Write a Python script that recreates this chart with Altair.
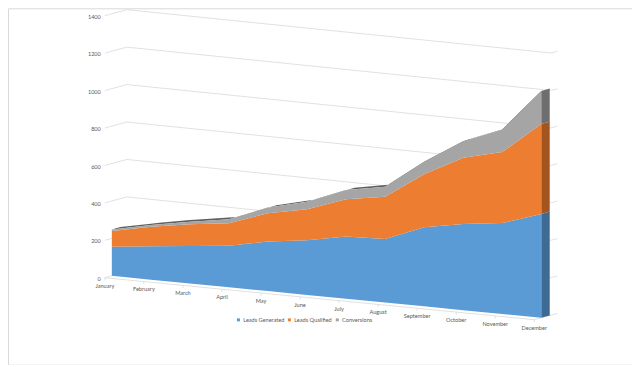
import altair as alt
import pandas as pd

# ---------------- data ----------------
months = ["January", "February", "March", "April", "May", "June", "July",
          "August", "September", "October", "November", "December"]
leads_generated = [156, 179, 200, 222, 265, 292, 332, 340, 423, 461, 486, 555]
leads_qualified = [84, 104, 116, 120, 151, 166, 199, 225, 283, 353, 379, 480]
conversions = [8, 9, 14, 21, 30, 40, 50, 54, 67, 89, 121, 177]
series_names = ["Leads Generated", "Leads Qualified", "Conversions"]
y_ticks = [0, 200, 400, 600, 800, 1000, 1200, 1400]

front_colors = ["#5b9bd5", "#ed7d31", "#a5a5a5"]
side_colors = ["#3e6a94", "#a3541f", "#6e6e6e"]
TOP_COLOR = "#5f5f5f"
TEXT = "#595959"
FONT = "Lato"
FS = 5.6

# ---------------- oblique 3-D projection ----------------
W, H = 625, 357
STEP = 39.1        # px per month along the front edge
PXV = 0.1875       # px per value unit
DROP = 3.82        # px the floor drops per month
DEPTH_DY = 0.273   # px rise per px of depth
SHEAR = DROP / PXV
DEPTH_K = DEPTH_DY / PXV
X0, Y0 = 104, 268  # plot position of (January, 0) on the area's front face

P_FRONT = -7       # depth of floor front edge / axis
P_SLAB = 8.5       # depth of the area slab
P_BACK_L, P_BACK_R = 15, 10


def proj(i, v, p):
    return i + p / STEP, v - SHEAR * i + DEPTH_K * p


xs = alt.Scale(domain=[-X0 / STEP, (W - X0) / STEP], nice=False, zero=False)
ys = alt.Scale(domain=[(Y0 - H) / PXV, Y0 / PXV], nice=False, zero=False)
X = alt.X("X:Q", scale=xs, axis=None)
Y = alt.Y("Y:Q", scale=ys, axis=None, stack=None)

n = len(months)
last = n - 1
series_vals = [leads_generated, leads_qualified, conversions]

# stacked bounds
lower, upper = [], []
acc = [0] * n
for vals in series_vals:
    lo = acc[:]
    acc = [a + v for a, v in zip(acc, vals)]
    lower.append(lo)
    upper.append(acc[:])
total = acc

# gridlines: side wall + back wall
grid_rows = []
for t in y_ticks:
    for k, (i, p) in enumerate([(0, P_FRONT), (0, P_BACK_L), (last, P_BACK_R)]):
        gx, gy = proj(i, t, p)
        grid_rows.append({"tick": t, "ord": k, "X": gx, "Y": gy})
grid = alt.Chart(pd.DataFrame(grid_rows)).mark_line(
    color="#d9d9d9", strokeWidth=0.8
).encode(x=X, y=Y, detail="tick:N", order="ord:Q")

# right-hand tick marks on back wall
rt_rows = []
for t in y_ticks:
    for k, p in enumerate([P_BACK_R, P_BACK_R + 6]):
        gx, gy = proj(last, t, p)
        rt_rows.append({"tick": t, "ord": k, "X": gx, "Y": gy})
rticks = alt.Chart(pd.DataFrame(rt_rows)).mark_line(
    color="#d9d9d9", strokeWidth=0.8
).encode(x=X, y=Y, detail="tick:N", order="ord:Q")

# floor front edge and right edge
floor_rows = []
for k, (i, p) in enumerate([(0, P_FRONT), (last, P_FRONT), (last, P_BACK_R)]):
    gx, gy = proj(i, 0, p)
    floor_rows.append({"ord": k, "X": gx, "Y": gy})
floor = alt.Chart(pd.DataFrame(floor_rows)).mark_line(
    color="#d9d9d9", strokeWidth=0.8
).encode(x=X, y=Y, order="ord:Q")

# category ticks
ct_rows = []
for i in range(n):
    for k, v in enumerate([0, -14]):
        gx, gy = proj(i, v, P_FRONT)
        ct_rows.append({"m": i, "ord": k, "X": gx, "Y": gy})
cticks = alt.Chart(pd.DataFrame(ct_rows)).mark_line(
    color="#d9d9d9", strokeWidth=0.8
).encode(x=X, y=Y, detail="m:N", order="ord:Q")

# top surface of the topmost series: strip between front and back top edges
front_top = [proj(i, total[i], 0) for i in range(n)]
dX = P_SLAB / STEP
dY = DEPTH_K * P_SLAB


def front_at(x):
    for i in range(last):
        x1, y1 = front_top[i]
        x2, y2 = front_top[i + 1]
        if x1 <= x <= x2:
            return y1 + (y2 - y1) * (x - x1) / (x2 - x1)
    return front_top[last][1] if x > front_top[last][0] else front_top[0][1]


bps = sorted(set([float(i) for i in range(n)] + [i + dX for i in range(n) if i + dX <= last]))
top_rows = []
for x in bps:
    yf = front_at(x)
    yb = front_at(x - dX) + dY if x - dX >= 0 else yf
    top_rows.append({"X": x, "Y": yf, "Y2": yb})
top = alt.Chart(pd.DataFrame(top_rows)).mark_area(color=TOP_COLOR).encode(
    x=X, y=Y, y2="Y2:Q"
)

# right side faces at December
side_rows = []
for s, name in enumerate(series_names):
    for p in [0, P_SLAB]:
        gx, gy = proj(last, lower[s][last], p)
        _, gy2 = proj(last, upper[s][last], p)
        side_rows.append({"series": name, "X": gx, "Y": gy, "Y2": gy2})
side = alt.Chart(pd.DataFrame(side_rows)).mark_area().encode(
    x=X, y=Y, y2="Y2:Q",
    color=alt.Color("series:N", scale=alt.Scale(domain=series_names, range=side_colors), legend=None),
)

# front faces
front_rows = []
for s, name in enumerate(series_names):
    for i in range(n):
        gx, gy = proj(i, lower[s][i], 0)
        _, gy2 = proj(i, upper[s][i], 0)
        front_rows.append({"series": name, "month": months[i], "X": gx, "Y": gy, "Y2": gy2})
front = alt.Chart(pd.DataFrame(front_rows)).mark_area().encode(
    x=X, y=Y, y2="Y2:Q",
    color=alt.Color(
        "series:N",
        scale=alt.Scale(domain=series_names, range=front_colors),
        sort=series_names,
        legend=alt.Legend(
            orient="none", legendX=228, legendY=309, direction="horizontal",
            title=None, symbolType="square", symbolSize=9, symbolStrokeWidth=0,
            labelFont=FONT, labelFontSize=FS, labelColor=TEXT, labelOffset=2,
            columnPadding=2, padding=0,
        ),
    ),
)

# month labels
ml_rows = []
for i, m in enumerate(months):
    gx, gy = proj(i, -42, P_FRONT)
    ml_rows.append({"month": m, "X": gx, "Y": gy})
mlabels = alt.Chart(pd.DataFrame(ml_rows)).mark_text(
    font=FONT, fontSize=FS, color=TEXT, align="center", baseline="middle"
).encode(x=X, y=Y, text="month:N")

# value labels
yl_rows = []
for t in y_ticks:
    gx, gy = proj(0, t, P_FRONT - 4)
    yl_rows.append({"label": str(t), "X": gx, "Y": gy})
ylabels = alt.Chart(pd.DataFrame(yl_rows)).mark_text(
    font=FONT, fontSize=FS, color=TEXT, align="right", baseline="middle"
).encode(x=X, y=Y, text="label:N")

chart = alt.layer(
    grid, rticks, floor, cticks, top, side, front, mlabels, ylabels
).resolve_scale(color="independent").properties(
    width=W, height=H, autosize=alt.AutoSizeParams(type="none"), padding=0
).configure_view(stroke="#d9d9d9")

chart.save("out.html", embed_options={"renderer": "svg", "actions": False})
